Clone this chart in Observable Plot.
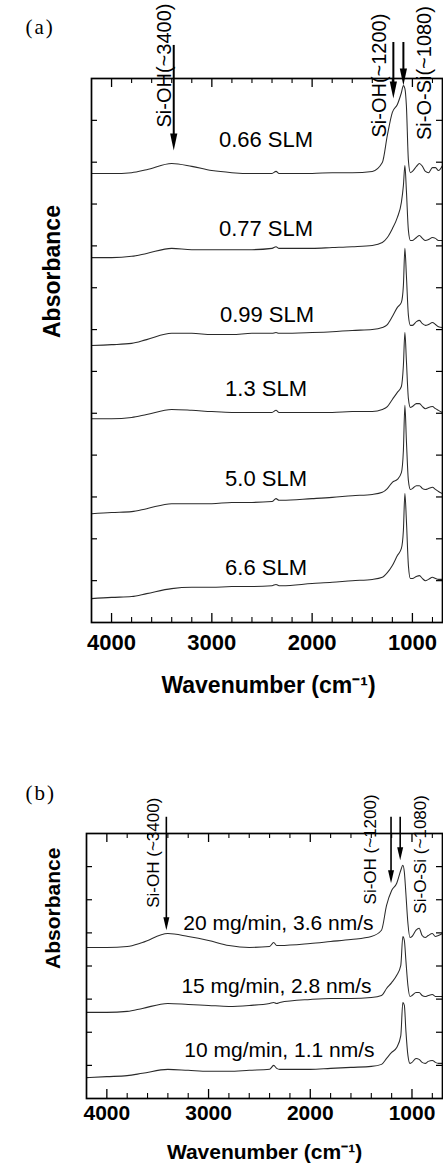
<!DOCTYPE html>
<html><head><meta charset="utf-8">
<script src="https://cdn.jsdelivr.net/npm/d3@7"></script>
<script src="https://cdn.jsdelivr.net/npm/@observablehq/plot@0.6"></script>
<style>
html,body{margin:0;padding:0;background:#fff;}
#chart{width:443px;}
#chart svg{display:block;overflow:visible;}
</style></head><body><div id="chart"></div>
<script>
// Wavenumber grid (cm^-1), shared by every spectrum
const wavenumbers = [4200, 4000, 3800, 3650, 3400, 3200, 3000, 2800, 2600, 2400, 2360, 2330, 2300,
  2000, 1800, 1600, 1400, 1300, 1250, 1200, 1150, 1110, 1090, 1075, 1060, 1040, 1020, 1000,
  960, 930, 900, 870, 840, 800, 770, 740, 700];

// Panel (a): offset absorbance spectra by gas flow
const seriesA = ["0.66 SLM", "0.77 SLM", "0.99 SLM", "1.3 SLM", "5.0 SLM", "6.6 SLM"];
const slm066 = [10.73, 10.73, 10.75, 10.82, 10.97, 10.90, 10.80, 10.75, 10.73, 10.73, 10.78, 10.73, 10.73,
  10.73, 10.75, 10.75, 10.78, 10.99, 11.64, 12.19, 12.38, 12.66, 12.83, 12.76, 12.35, 11.04, 10.75, 10.78,
  10.90, 10.97, 10.90, 10.78, 10.75, 10.87, 10.87, 10.80, 10.92];
const slm077 = [8.72, 8.72, 8.75, 8.82, 8.94, 8.91, 8.91, 8.91, 8.91, 8.94, 8.98, 8.94, 8.94,
  8.94, 8.96, 8.98, 9.01, 9.08, 9.20, 9.41, 9.68, 10.04, 10.44, 10.92, 10.32, 9.37, 9.13, 9.13,
  9.20, 9.25, 9.18, 9.13, 9.15, 9.20, 9.18, 9.13, 9.13];
const slm099 = [6.62, 6.64, 6.67, 6.76, 6.91, 6.91, 6.88, 6.88, 6.91, 6.91, 6.93, 6.91, 6.91,
  6.93, 6.95, 6.98, 7.00, 7.05, 7.12, 7.31, 7.53, 7.65, 8.05, 8.94, 8.29, 7.34, 7.10, 7.10,
  7.19, 7.22, 7.14, 7.10, 7.12, 7.17, 7.12, 7.07, 7.05];
const slm13 = [4.87, 4.87, 4.90, 4.97, 5.09, 5.07, 5.04, 5.02, 5.02, 5.02, 5.07, 5.02, 5.02,
  5.02, 5.02, 5.04, 5.04, 5.09, 5.16, 5.33, 5.50, 5.64, 6.14, 6.93, 6.26, 5.35, 5.14, 5.16,
  5.23, 5.23, 5.16, 5.11, 5.14, 5.16, 5.11, 5.07, 5.02];
const slm50 = [2.60, 2.63, 2.65, 2.72, 2.84, 2.84, 2.84, 2.87, 2.87, 2.89, 2.96, 2.92, 2.92,
  2.96, 2.99, 3.03, 3.06, 3.11, 3.20, 3.35, 3.42, 3.58, 4.11, 5.19, 4.35, 3.39, 3.18, 3.20,
  3.27, 3.27, 3.20, 3.18, 3.20, 3.23, 3.18, 3.13, 3.08];
const slm66 = [0.57, 0.60, 0.62, 0.69, 0.81, 0.84, 0.84, 0.86, 0.86, 0.88, 0.91, 0.88, 0.88,
  0.93, 0.96, 1.00, 1.03, 1.08, 1.19, 1.36, 1.60, 1.77, 2.20, 3.08, 2.44, 1.36, 1.05, 1.05,
  1.10, 1.12, 1.05, 1.00, 1.03, 1.08, 1.05, 1.03, 1.03];
const valuesA = [slm066, slm077, slm099, slm13, slm50, slm66];
const labelWnA = [2460, 2460, 2450, 2460, 2460, 2460];
const labelYA = [11.52, 9.41, 7.34, 5.59, 3.44, 1.31];

// Panel (b): offset absorbance spectra by feed rate / deposition rate
const seriesB = ["20 mg/min, 3.6 nm/s", "15 mg/min, 2.8 nm/s", "10 mg/min, 1.1 nm/s"];
const rate20 = [4.56, 4.56, 4.59, 4.71, 4.98, 4.89, 4.77, 4.62, 4.56, 4.59, 4.71, 4.62, 4.62,
  4.68, 4.74, 4.80, 4.89, 5.08, 5.83, 6.28, 6.50, 6.89, 7.04, 6.83, 6.19, 5.29, 4.86, 4.89,
  5.08, 5.14, 4.92, 4.86, 4.92, 4.98, 4.89, 4.92, 4.98];
const rate15 = [2.60, 2.60, 2.63, 2.72, 2.87, 2.84, 2.81, 2.78, 2.81, 2.87, 2.90, 2.87, 2.90,
  2.99, 3.02, 3.02, 3.05, 3.11, 3.32, 3.50, 3.72, 4.02, 4.89, 4.77, 4.17, 3.41, 3.08, 3.11,
  3.20, 3.20, 3.11, 3.08, 3.11, 3.14, 3.08, 3.08, 3.08];
const rate10 = [0.63, 0.66, 0.69, 0.76, 0.88, 0.85, 0.82, 0.82, 0.85, 0.88, 1.00, 0.91, 0.88,
  0.88, 0.91, 0.94, 0.97, 1.03, 1.21, 1.39, 1.54, 1.90, 2.90, 2.81, 2.05, 1.30, 1.06, 1.09,
  1.21, 1.18, 1.09, 1.06, 1.12, 1.15, 1.09, 1.06, 1.06];
const valuesB = [rate20, rate15, rate10];
const labelWnB = [2313, 2332, 2303];
const labelYB = [5.29, 3.38, 1.45];

// Axes
const xDomain = [4200, 700];
const xMajorTicks = [4000, 3000, 2000, 1000];
const xMinorTicks = [3800, 3600, 3400, 3200, 2800, 2600, 2400, 2200, 1800, 1600, 1400, 1200, 800];
const yTicksA = [1, 2, 3, 4, 5, 6, 7, 8, 9, 10, 11, 12];
const yTicksB = [1, 2, 3, 4, 5, 6, 7];

// Band annotations
const bandLabelsA = ["Si-OH(~3400)", "Si-OH(~1200)", "Si-O-Si(~1080)"];
const bandLabelWnA = [3475, 1325, 875];
const bandLabelYA = [13.31, 13.07, 13.13];
const arrowWnA = [3380, 1190, 1090];
const arrowTopA = [13.79, 13.86, 13.86];
const arrowTipA = [11.28, 12.52, 12.83];

const bandLabelsB = ["Si-OH (~3400)", "Si-OH (~1200)", "Si-O-Si (~1080)"];
const bandLabelWnB = [3539, 1405, 920];
const bandLabelYB = [7.42, 7.52, 7.37];
const arrowWnB = [3415, 1206, 1116];
const arrowTopB = [8.49, 8.49, 8.49];
const arrowTipB = [5.08, 6.50, 7.19];

function headSymbol(w, h) {
  return {draw(ctx) { ctx.moveTo(0, 0); ctx.lineTo(-w, -h); ctx.lineTo(w, -h); ctx.closePath(); }};
}

function drawPanel(c) {
  const width = 443, marginRight = 1;
  const innerH = c.height - c.marginTop - c.marginBottom;
  const innerW = width - c.marginLeft - marginRight;
  const rows = c.series.flatMap((s, i) => wavenumbers.map((w, j) => ({s, w, v: c.values[i][j]})));
  const labels = c.series.map((s, i) => ({s, w: c.labelWn[i], v: c.labelY[i]}));
  const bands = c.bandLabels.map((t, i) => ({t, w: c.bandWn[i], v: c.bandY[i]}));
  const arrows = c.arrowWn.map((w, i) => ({w, top: c.arrowTop[i], tip: c.arrowTip[i]}));
  return Plot.plot({
    width, height: c.height,
    marginLeft: c.marginLeft, marginRight, marginTop: c.marginTop, marginBottom: c.marginBottom,
    x: {domain: xDomain, axis: null},
    y: {domain: [0, c.yMax], axis: null},
    style: {fontFamily: "'Liberation Sans', Arial, sans-serif", background: "white", color: "black"},
    marks: [
      Plot.line(rows, {x: "w", y: "v", z: "s", curve: "monotone-x", stroke: "#2a2a2a", strokeWidth: 1.05, strokeLinejoin: "round"}),
      Plot.frame({stroke: "black", strokeWidth: 1.7}),
      Plot.ruleX(xMajorTicks, {insetTop: innerH - 9, strokeWidth: 1.3}),
      Plot.ruleX(xMajorTicks, {insetBottom: innerH - 9, strokeWidth: 1.3}),
      Plot.ruleX(xMinorTicks, {insetTop: innerH - 5, strokeWidth: 1.1}),
      Plot.ruleX(xMinorTicks, {insetBottom: innerH - 5, strokeWidth: 1.1}),
      Plot.ruleY(c.yTicks, {insetRight: innerW - 6, strokeWidth: 1.2}),
      Plot.ruleY(c.yTicks, {insetLeft: innerW - 6, strokeWidth: 1.2}),
      Plot.text(xMajorTicks, {x: d => d, text: d => String(d), frameAnchor: "bottom", dy: c.tickDy,
        fontSize: c.tickFont, fontWeight: "bold", lineAnchor: "middle"}),
      Plot.text(["Wavenumber (cm\u207B\u00B9)"], {text: d => d, frameAnchor: "bottom", dy: c.titleDy, dx: c.titleDx,
        fontSize: c.titleFont, fontWeight: "bold", lineAnchor: "middle"}),
      Plot.text(["Absorbance"], {text: d => d, frameAnchor: "left", dx: c.absDx, dy: c.absDy, rotate: -90,
        fontSize: c.titleFont, fontWeight: "bold", lineAnchor: "middle"}),
      Plot.text([c.panel], {text: d => d, frameAnchor: "top-left", dx: c.panelDx, dy: c.panelDy,
        fontSize: 21, fontFamily: "'Liberation Serif', 'Times New Roman', serif", lineAnchor: "middle"}),
      Plot.text(labels, {x: "w", y: "v", text: "s", fontSize: c.labelFont, lineAnchor: "middle"}),
      Plot.text(bands, {x: "w", y: "v", text: "t", rotate: -90, fontSize: c.bandFont, lineAnchor: "middle"}),
      Plot.ruleX(arrows, {x: "w", y1: "top", y2: "tip", insetBottom: c.headH - 2, strokeWidth: c.arrowWidth}),
      Plot.dot(arrows, {x: "w", y: "tip", symbol: headSymbol(c.headW, c.headH), fill: "black", stroke: "none"})
    ]
  });
}

const svgA = drawPanel({
  panel: "(a)", height: 740, marginLeft: 91, marginTop: 78, marginBottom: 118, yMax: 13,
  series: seriesA, values: valuesA, labelWn: labelWnA, labelY: labelYA, yTicks: yTicksA,
  bandLabels: bandLabelsA, bandWn: bandLabelWnA, bandY: bandLabelYA,
  arrowWn: arrowWnA, arrowTop: arrowTopA, arrowTip: arrowTipA,
  tickDy: 20, tickFont: 22, titleDy: 63, titleDx: 1.5, titleFont: 23,
  absDx: -38.5, absDy: -12.5, panelDx: -66, panelDy: -51,
  labelFont: 22, bandFont: 20, headW: 3.6, headH: 17, arrowWidth: 2
});
const svgB = drawPanel({
  panel: "(b)", height: 423, marginLeft: 86, marginTop: 93, marginBottom: 65, yMax: 8,
  series: seriesB, values: valuesB, labelWn: labelWnB, labelY: labelYB, yTicks: yTicksB,
  bandLabels: bandLabelsB, bandWn: bandLabelWnB, bandY: bandLabelYB,
  arrowWn: arrowWnB, arrowTop: arrowTopB, arrowTip: arrowTipB,
  tickDy: 15, tickFont: 21, titleDy: 54, titleDx: 0, titleFont: 21,
  absDx: -33, absDy: 3, panelDx: -61, panelDy: -40,
  labelFont: 21, bandFont: 17, headW: 3, headH: 13, arrowWidth: 1.6
});
const chart = document.getElementById("chart");
chart.appendChild(svgA);
chart.appendChild(svgB);
d3.selectAll("#chart svg text").filter(function() { return /^\([ab]\)$/.test(this.textContent); })
  .attr("letter-spacing", "2px");
</script>
</body></html>
